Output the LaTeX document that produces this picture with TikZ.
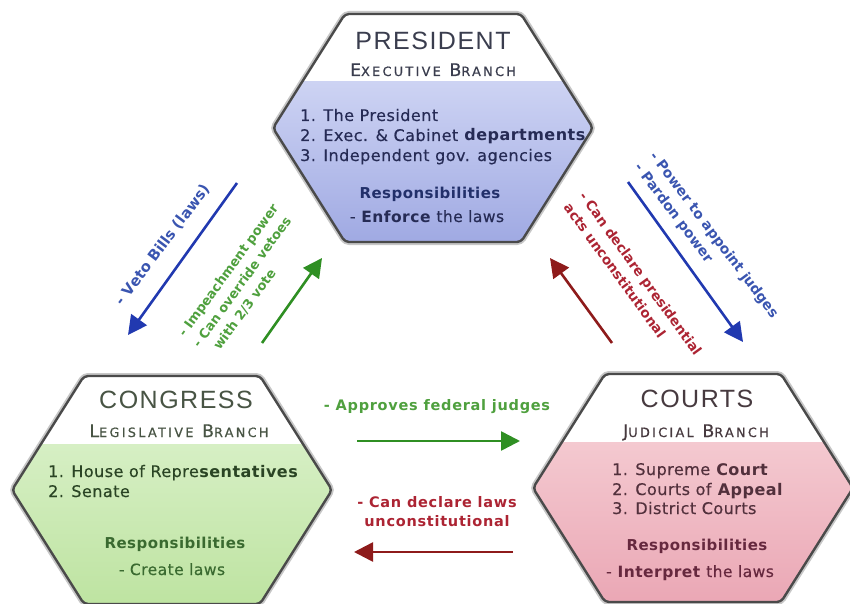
\documentclass[tikz,border=0pt]{standalone}
\usepackage{fontspec}
\setmainfont{DejaVu Sans}[LetterSpace=3, UprightFeatures={FakeBold=0.4}]
\newfontfamily\headfont{Liberation Sans}[LetterSpace=6]
\newfontfamily\branchfont{DejaVu Sans}[LetterSpace=18, FakeBold=0.6]
\newfontfamily\checkfont{DejaVu Sans}[LetterSpace=5]
\newfontfamily\tiltfont{DejaVu Sans}
\usepackage{tikz}
\usetikzlibrary{calc,arrows.meta,backgrounds}

\definecolor{hexline}{HTML}{4A4A4A}
\definecolor{presink}{HTML}{262B55}
\definecolor{prestitle}{HTML}{3A3D4E}
\definecolor{presresp}{HTML}{22306A}
\definecolor{prestop}{HTML}{CDD3F3}
\definecolor{presbot}{HTML}{9EA8E2}
\definecolor{congink}{HTML}{2A4424}
\definecolor{congtitle}{HTML}{485444}
\definecolor{congresp}{HTML}{3A6A30}
\definecolor{congtop}{HTML}{D6EFC4}
\definecolor{congbot}{HTML}{BDE3A0}
\definecolor{courtink}{HTML}{52303C}
\definecolor{courttitle}{HTML}{473A3F}
\definecolor{courtresp}{HTML}{66283E}
\definecolor{courttop}{HTML}{F4C9D0}
\definecolor{courtbot}{HTML}{EAA6B4}
\definecolor{vetoblue}{HTML}{2139B0}
\definecolor{labelblue}{HTML}{3A55B0}
\definecolor{okgreen}{HTML}{2F8F23}
\definecolor{labelgreen}{HTML}{4FA03E}
\definecolor{voidred}{HTML}{8E1B1B}
\definecolor{labelred}{HTML}{AC2433}

\newcommand{\smallcap}[1]{{\fontsize{12.8}{12.8}\selectfont #1}}
\newcommand{\hexpath}[1]{($(#1)+(-160,0)$) -- ($(#1)+(-88,-114)$) -- ($(#1)+(88,-114)$) -- ($(#1)+(160,0)$) -- ($(#1)+(88,114)$) -- ($(#1)+(-88,114)$) -- cycle}

\tikzstyle{hexshadow}=[
  draw=black!22, line width=6pt, rounded corners=4pt
]
\tikzstyle{hexborder}=[
  draw=hexline, line width=2.4pt, rounded corners=4pt
]
\tikzstyle{title}=[
  font=\headfont\fontsize{25}{25}\selectfont, anchor=base, inner sep=0pt
]
\tikzstyle{branch}=[
  font=\branchfont\fontsize{17.4}{17.4}\selectfont, anchor=base, inner sep=0pt
]
\tikzstyle{item}=[
  font=\fontsize{16}{16}\selectfont, anchor=base west, inner sep=0pt
]
\tikzstyle{resp}=[
  font=\bfseries\fontsize{15}{15}\selectfont, anchor=base, inner sep=0pt
]
\tikzstyle{duty}=[
  font=\fontsize{15.5}{15.5}\selectfont, anchor=base, inner sep=0pt
]
\tikzstyle{check}=[
  font=\tiltfont\bfseries\fontsize{14}{19}\selectfont, inner sep=0pt, align=left
]
\tikzstyle{flatcheck}=[
  font=\checkfont\bfseries\fontsize{14.5}{19}\selectfont, inner sep=0pt, align=center
]
\tikzset{
  power/.style={line width=2.6pt, -{Triangle[length=19pt,width=19pt]}},
}

\begin{document}
\begin{tikzpicture}[x=1pt,y=-1pt]
  \useasboundingbox (0,0) rectangle (850,604);
  \clip (0,0) rectangle (850,604);
  \coordinate (pres) at (433,128);
  \coordinate (cong) at (172,490);
  \coordinate (court) at (693,488);

  % executive
  \draw [hexshadow] \hexpath{pres};
  \begin{scope}
    \clip \hexpath{pres};
    \fill [white] ($(pres)+(-170,-120)$) rectangle ($(pres)+(170,120)$);
    \shade [top color=prestop, bottom color=presbot] ($(pres)+(-170,-46)$) rectangle ($(pres)+(170,120)$);
  \end{scope}
  \draw [hexborder] \hexpath{pres};
  \node (ptitle) at ($(pres)+(0,-78)$) [title, text=prestitle] {PRESIDENT};
  \node (pbranch) at ($(pres)+(0,-52)$) [branch, text=prestitle] {E\smallcap{XECUTIVE} B\smallcap{RANCH}};
  \node (p1) at ($(pres)+(-133,-7)$) [item, text=presink] {1. The President};
  \node (p2) at ($(pres)+(-133,13)$) [item, text=presink] {2. Exec. \& Cabinet \textbf{departments}};
  \node (p3) at ($(pres)+(-133,33)$) [item, text=presink] {3. Independent gov. agencies};
  \node (presp) at ($(pres)+(-3,70)$) [resp, text=presresp] {Responsibilities};
  \node (pduty) at ($(pres)+(-6,94)$) [duty, text=presink] {- \textbf{Enforce} the laws};

  % legislative
  \draw [hexshadow] \hexpath{cong};
  \begin{scope}
    \clip \hexpath{cong};
    \fill [white] ($(cong)+(-170,-120)$) rectangle ($(cong)+(170,120)$);
    \shade [top color=congtop, bottom color=congbot] ($(cong)+(-170,-46)$) rectangle ($(cong)+(170,120)$);
  \end{scope}
  \draw [hexborder] \hexpath{cong};
  \node (ctitle) at ($(cong)+(4,-82)$) [title, text=congtitle] {CONGRESS};
  \node (cbranch) at ($(cong)+(7,-53)$) [branch, text=congtitle] {L\smallcap{EGISLATIVE} B\smallcap{RANCH}};
  \node (c1) at ($(cong)+(-124,-13)$) [item, text=congink] {1. House of Repre\textbf{sentatives}};
  \node (c2) at ($(cong)+(-124,7)$) [item, text=congink] {2. Senate};
  \node (cresp) at ($(cong)+(3,58)$) [resp, text=congresp] {Responsibilities};
  \node (cduty) at ($(cong)+(0,85)$) [duty, text=congresp] {- Create laws};

  % judicial
  \draw [hexshadow] \hexpath{court};
  \begin{scope}
    \clip \hexpath{court};
    \fill [white] ($(court)+(-170,-120)$) rectangle ($(court)+(170,120)$);
    \shade [top color=courttop, bottom color=courtbot] ($(court)+(-170,-46)$) rectangle ($(court)+(170,120)$);
  \end{scope}
  \draw [hexborder] \hexpath{court};
  \node (jtitle) at ($(court)+(4,-81)$) [title, text=courttitle] {COURTS};
  \node (jbranch) at ($(court)+(3,-51)$) [branch, text=courttitle] {J\smallcap{UDICIAL} B\smallcap{RANCH}};
  \node (j1) at ($(court)+(-81,-13)$) [item, text=courtink] {1. Supreme \textbf{Court}};
  \node (j2) at ($(court)+(-81,7)$) [item, text=courtink] {2. Courts of \textbf{Appeal}};
  \node (j3) at ($(court)+(-81,26)$) [item, text=courtink] {3. District Courts};
  \node (jresp) at ($(court)+(4,62)$) [resp, text=courtresp] {Responsibilities};
  \node (jduty) at ($(court)+(-3,89)$) [duty, text=courtresp] {- \textbf{Interpret} the laws};

  % checks and balances
  \coordinate (veto-from) at (237,183);
  \coordinate (veto-to) at (128,335);
  \coordinate (impeach-from) at (262,343);
  \coordinate (impeach-to) at (322,258);
  \coordinate (appoint-from) at (628,182);
  \coordinate (appoint-to) at (743,342);
  \coordinate (unpres-from) at (612,343);
  \coordinate (unpres-to) at (550,258);
  \coordinate (approve-from) at (357,441);
  \coordinate (approve-to) at (520,441);
  \coordinate (unlaw-from) at (513,552);
  \coordinate (unlaw-to) at (354,552);

  \draw [power, vetoblue] (veto-from) -- (veto-to);
  \draw [power, okgreen] (impeach-from) -- (impeach-to);
  \draw [power, vetoblue] (appoint-from) -- (appoint-to);
  \draw [power, voidred] (unpres-from) -- (unpres-to);
  \draw [power, okgreen] (approve-from) -- (approve-to);
  \draw [power, voidred] (unlaw-from) -- (unlaw-to);

  \node (veto) at (163,245) [check, rotate=53, text=labelblue, font=\tiltfont\bfseries\fontsize{14.8}{19}\selectfont] {- Veto Bills (laws)};
  \node (impeach) at (243,281) [check, rotate=54, text=labelgreen, font=\tiltfont\bfseries\fontsize{13}{18}\selectfont] {- Impeachment power\\- Can override vetoes\\\hphantom{- }with 2/3 vote};
  \node (appoint) at (706,241) [check, rotate=-53] [text=labelblue] {- Power to appoint judges\\- Pardon power};
  \node (unpres) at (633,279) [check, rotate=-54, text=labelred, font=\tiltfont\bfseries\fontsize{13.6}{19}\selectfont] {- Can declare presidential\\acts unconstitutional};
  \node (approve) at (437,410) [flatcheck, anchor=base, text=labelgreen] {- Approves federal judges};
  \node (unlaw) at (437,512) [flatcheck, text=labelred] {- Can declare laws\\unconstitutional};
\end{tikzpicture}
\end{document}
